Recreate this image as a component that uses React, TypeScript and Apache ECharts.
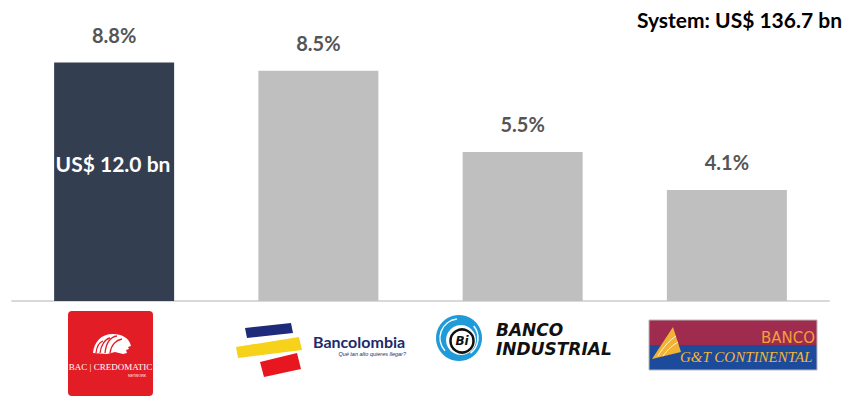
import React, { useEffect, useRef } from "react";
import * as echarts from "echarts";

const categories = ["BAC Credomatic", "Bancolombia", "Banco Industrial", "G&T Continental"];
const shareValues = [8.8, 8.5, 5.5, 4.1];
const barColors = ["#343e51", "#bfbfbf", "#bfbfbf", "#bfbfbf"];
const systemTitle = "System: US$ 136.7 bn";
const leaderAssets = "US$ 12.0 bn";

echarts.graphic.registerShape(
  "lionHead",
  echarts.graphic.extendPath(
    "M0 20 C1 9 8 1 20 1 C29 1 35 5 37 10 L38 13 L35 14 L36 16 L33 17 L34 20 L30 21 L22 19 L14 21 Z",
    {}
  )
);

export default function App() {
  const ref = useRef<HTMLDivElement>(null);
  useEffect(() => {
    if (!ref.current) return;
    const chart = echarts.init(ref.current, null, { renderer: "svg" });
    const FONT = "Lato";
    chart.setOption({
      animation: false,
      grid: { left: 12, right: 27, top: 30, bottom: 103 },
      xAxis: {
        type: "category",
        data: categories,
        axisLine: { show: true, lineStyle: { color: "#d9d9d9", width: 2 } },
        axisTick: { show: false },
        axisLabel: { show: false },
      },
      yAxis: {
        type: "value",
        min: 0,
        max: 10,
        show: false,
        splitLine: { show: false },
      },
      series: [
        {
          type: "bar",
          barWidth: 120,
          data: shareValues.map((v, i) => ({ value: v, itemStyle: { color: barColors[i] } })),
          label: {
            show: true,
            position: "top",
            distance: 18,
            formatter: (p: any) => p.value.toFixed(1) + "%",
            fontFamily: FONT,
            fontWeight: "bold",
            fontSize: 20,
            color: "#555555",
          },
        },
      ],
      graphic: {
        elements: [
          {
            type: "text",
            right: 14,
            top: 9,
            z: 100,
            style: { text: systemTitle, fontFamily: FONT, fontWeight: "bold", fontSize: 21, fill: "#000" },
          },
          {
            type: "text",
            x: 113,
            y: 163,
            z: 100,
            style: {
              text: leaderAssets,
              fontFamily: FONT,
              fontWeight: "bold",
              fontSize: 21,
              fill: "#ffffff",
              align: "center",
              verticalAlign: "middle",
            },
          },
          // BAC Credomatic logo
          { type: "rect", shape: { x: 68, y: 311, width: 85, height: 85, r: 4 }, style: { fill: "#e31d25" } },
          { type: "lionHead", x: 93, y: 333, style: { fill: "#ffffff" } },
          { type: "bezierCurve", shape: { x1: 96, y1: 353, x2: 103, y2: 341, cpx1: 97, cpy1: 345, cpx2: 100, cpy2: 342 }, style: { stroke: "#e31d25", lineWidth: 1.3, fill: "none" } },
          { type: "bezierCurve", shape: { x1: 100, y1: 353, x2: 110, y2: 338, cpx1: 101, cpy1: 345, cpx2: 105, cpy2: 339 }, style: { stroke: "#e31d25", lineWidth: 1.3, fill: "none" } },
          { type: "bezierCurve", shape: { x1: 105, y1: 353, x2: 117, y2: 336, cpx1: 106, cpy1: 344, cpx2: 110, cpy2: 337 }, style: { stroke: "#e31d25", lineWidth: 1.3, fill: "none" } },
          { type: "bezierCurve", shape: { x1: 110, y1: 353, x2: 122, y2: 339, cpx1: 111, cpy1: 345, cpx2: 116, cpy2: 340 }, style: { stroke: "#e31d25", lineWidth: 1.3, fill: "none" } },
          {
            type: "text",
            x: 110.5,
            y: 367,
            style: { text: "BAC | CREDOMATIC", fontFamily: "Liberation Serif", fontSize: 9, fill: "#ffffff", align: "center", verticalAlign: "middle" },
          },
          {
            type: "text",
            x: 146,
            y: 376,
            style: { text: "NETWORK", fontFamily: "Liberation Sans", fontSize: 3.5, fill: "#ffffff", align: "right", verticalAlign: "middle" },
          },
          // Bancolombia logo
          { type: "polygon", shape: { points: [[245, 328], [291, 323], [293, 333], [247, 338]] }, style: { fill: "#1d2b7a" } },
          { type: "polygon", shape: { points: [[236, 347], [299, 337], [302, 350], [238, 358]] }, style: { fill: "#f6d21b" } },
          { type: "polygon", shape: { points: [[260, 362], [297, 353], [301, 369], [264, 377]] }, style: { fill: "#e8171f" } },
          {
            type: "text",
            x: 313,
            y: 341,
            style: { text: "Bancolombia", fontFamily: FONT, fontWeight: "bold", fontSize: 16, lineHeight: 14, fill: "#20296b", verticalAlign: "middle" },
          },
          {
            type: "text",
            x: 406,
            y: 353.5,
            style: { text: "Qué tan alto quieres llegar?", fontFamily: "Liberation Sans", fontStyle: "italic", fontSize: 5.5, lineHeight: 6, fill: "#20296b", align: "right", verticalAlign: "middle" },
          },
          // Banco Industrial logo
          { type: "circle", shape: { cx: 459, cy: 338, r: 23 }, style: { fill: "#1e9bd8" } },
          { type: "arc", shape: { cx: 459, cy: 338, r: 19, startAngle: 2.4, endAngle: 4.6 }, style: { stroke: "#ffffff", lineWidth: 1.5, fill: "none" } },
          { type: "arc", shape: { cx: 459, cy: 338, r: 19, startAngle: 5.6, endAngle: 7.2 }, style: { stroke: "#ffffff", lineWidth: 1.5, fill: "none" } },
          { type: "circle", shape: { cx: 461, cy: 340, r: 15 }, style: { fill: "#ffffff" } },
          { type: "circle", shape: { cx: 462, cy: 341, r: 11.5 }, style: { fill: "#ffffff", stroke: "#111111", lineWidth: 2.5 } },
          {
            type: "text",
            x: 462,
            y: 341,
            style: { text: "Bi", fontFamily: "DejaVu Sans", fontWeight: "bold", fontStyle: "italic", fontSize: 12, fill: "#111111", align: "center", verticalAlign: "middle" },
          },
          {
            type: "text",
            x: 496,
            y: 329.5,
            style: { text: "BANCO", fontFamily: "DejaVu Sans", fontWeight: "bold", fontStyle: "italic", fontSize: 17, lineHeight: 15, fill: "#111111", verticalAlign: "middle" },
          },
          {
            type: "text",
            x: 496,
            y: 348.5,
            style: { text: "INDUSTRIAL", fontFamily: "DejaVu Sans", fontWeight: "bold", fontStyle: "italic", fontSize: 17, lineHeight: 15, fill: "#111111", verticalAlign: "middle" },
          },
          // G&T Continental logo
          { type: "rect", shape: { x: 649, y: 320, width: 168, height: 25 }, style: { fill: "#9f2b4e" } },
          { type: "rect", shape: { x: 649, y: 345, width: 168, height: 25 }, style: { fill: "#1d4b9b" } },
          { type: "rect", shape: { x: 649, y: 320, width: 168, height: 50 }, style: { fill: "none", stroke: "#b9b9b9", lineWidth: 1 } },
          { type: "polygon", shape: { points: [[673, 327], [652, 359], [681, 352]] }, style: { fill: "#f2b334" } },
          { type: "bezierCurve", shape: { x1: 658, y1: 356, x2: 676, y2: 336, cpx1: 664, cpy1: 346, cpx2: 670, cpy2: 340 }, style: { stroke: "#fff6d8", lineWidth: 1, fill: "none" } },
          { type: "bezierCurve", shape: { x1: 663, y1: 356, x2: 678, y2: 342, cpx1: 668, cpy1: 349, cpx2: 673, cpy2: 345 }, style: { stroke: "#fff6d8", lineWidth: 1, fill: "none" } },
          {
            type: "text",
            x: 815,
            y: 338,
            style: { text: "BANCO", fontFamily: "DejaVu Sans", fontSize: 15, lineHeight: 12, fill: "#f0a13a", align: "right", verticalAlign: "middle" },
          },
          {
            type: "text",
            x: 680,
            y: 357,
            style: { text: "G&T CONTINENTAL", fontFamily: "Liberation Serif", fontStyle: "italic", fontSize: 15, lineHeight: 13, fill: "#f5b533", verticalAlign: "middle" },
          },
        ],
      },
    });
    return () => chart.dispose();
  }, []);
  return (
    <div
      ref={ref}
      style={{ position: "fixed", left: 0, top: 0, width: 856, height: 404, background: "#ffffff" }}
    />
  );
}
